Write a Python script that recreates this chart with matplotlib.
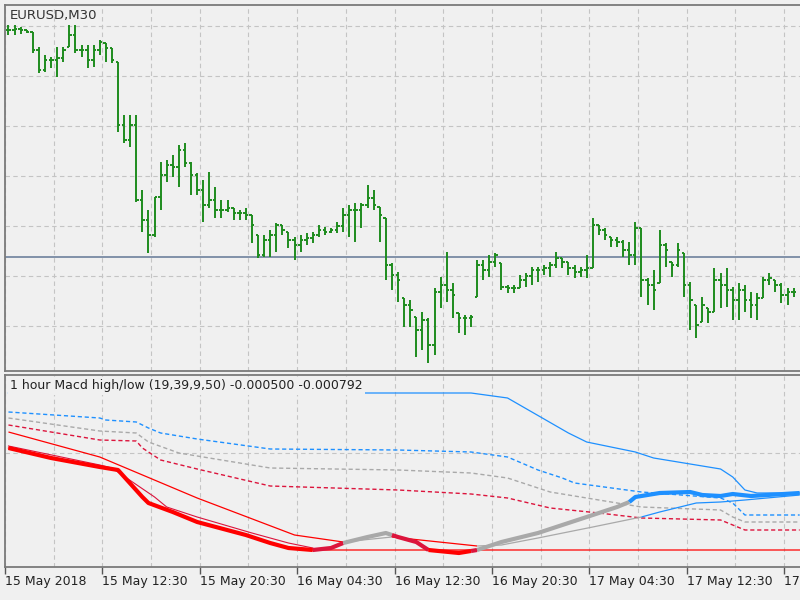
import numpy as np
import matplotlib
matplotlib.use("Agg")
import matplotlib.pyplot as plt

# EURUSD M30 bars, prices given in pips above 1.1800
BASE = 1.1800
PIP = 0.0001

open_pips = [128, 128, 128.5, 128, 127, 118, 108, 113, 113, 114,
             119.5, 125.5, 118, 118, 113, 118, 121.5, 119, 112, 80.5,
             73, 80.5, 43, 33, 25.5, 44.5, 55.5, 60.5, 59.5, 68,
             61.5, 55.5, 48, 40.5, 43, 38, 38, 39, 36.5, 36.5,
             35.5, 25.5, 15.5, 23, 25.5, 30.5, 27, 23, 20.5, 23,
             24, 25.5, 28, 27, 28, 30, 35.5, 38, 38, 40.5,
             44, 39.5, 34, 10.5, 5.5, -6, -9.5, -15.5, -22, -17,
             -29.5, -3, 0.5, -2, -13.5, -16, -16, -5.5, 10.5, 8,
             12, 11.5, -0.5, -1, -1, 3, 5, 8, 8, 9,
             10.5, 14, 12, 9, 7, 8, 9, 30.5, 28, 24.5,
             23, 22, 18, 15.5, 29, 3, 0.5, 1.5, 20.5, 12,
             10.5, 16.5, 0.5, -9.5, -18, -11, -13, 3, 0.5, -2,
             -7, -2, -7, -9.5, -6, 3, 3, 0.5, -4.5, -3]
high_pips = [130.5, 130.5, 129.5, 128, 127, 119.5, 115.5, 114.5, 119.5, 119.5,
             130.5, 130.5, 120.5, 120.5, 120.5, 123, 121.5, 119, 112, 85.5,
             85.5, 85.5, 48, 38, 44.5, 62, 63, 65.5, 70.5, 71.5,
             62, 56.5, 53, 57, 49.5, 43, 43, 39, 38, 39,
             35.5, 25.5, 25.5, 28, 31.5, 30.5, 27, 24.5, 25.5, 26.5,
             27, 30.5, 29.5, 29, 32, 39, 40.5, 41.5, 41.5, 50.5,
             48, 39.5, 34, 11.5, 7, -6, -7, -15.5, -13, -16,
             -1, 4.5, 17, 1.5, -13.5, -14.5, -14.5, 13, 13, 15.5,
             16.5, 11.5, 0.5, 0.5, 5.5, 6.5, 9.5, 9.5, 10.5, 12,
             17, 14, 12, 10.5, 9.5, 15.5, 34, 30.5, 29, 24.5,
             24.5, 23, 22, 32, 29, 4, 8, 28, 21.5, 12,
             21.5, 16.5, 2, -9.5, -5.5, -11, 9, 6.5, 9, -0.5,
             1.5, 0.5, -3, -3.5, 4.5, 6.5, 3, 1.5, -1, -1]
low_pips = [125.5, 125.5, 126, 126.5, 116.5, 106.5, 107, 109, 104.5, 112,
            119.5, 116.5, 114.5, 109, 109.5, 115.5, 112, 111.5, 77, 71.5,
            69.5, 42, 27, 16.5, 24.5, 38, 52, 54.5, 49.5, 59.5,
            45.5, 45.5, 32, 39, 34, 34, 37, 33, 33, 33,
            21.5, 14, 14.5, 14.5, 17, 25.5, 19, 13, 17, 20.5,
            21.5, 24.5, 25.5, 26.5, 26.5, 27, 24.5, 22, 29, 39,
            38, 22, 3, -2, -8, -20.5, -20.5, -35.5, -32, -38.5,
            -34.5, -11, -8, -16, -23.5, -24.5, -20.5, -5.5, 3, 4.5,
            9.5, -2, -3.5, -3.5, -1, -0.5, 0.5, 2, 5.5, 4.5,
            9, 9, 5.5, 4, 4.5, 4, 9, 25.5, 23, 19.5,
            19.5, 14.5, 10.5, 10.5, -5.5, -9.5, -12, 1.5, 9.5, 4.5,
            9.5, -5.5, -22, -26, -18, -18.5, -13, -11, -10.5, -17,
            -17, -13, -16, -17, -6, 0.5, -3, -8.5, -9.5, -5.5]
close_pips = [128, 128.5, 128, 127, 118, 108, 113, 113, 114, 118,
              125.5, 118, 118, 113, 118, 122, 119, 113, 80.5, 73,
              80.5, 43, 33, 25.5, 44.5, 55.5, 60.5, 59.5, 68, 61.5,
              55.5, 48, 40.5, 43, 38, 38, 39, 36.5, 36.5, 35.5,
              30.5, 15.5, 23, 25.5, 30.5, 28, 23, 20.5, 23, 24,
              25.5, 28, 27, 28, 30, 35.5, 38, 38, 40.5, 44,
              40.5, 35.5, 10.5, 5.5, 3, -9.5, -12, -22, -17, -29.5,
              -3, 0.5, -2, -4.5, -16, -16, -15.5, 10.5, 8, 12,
              15.5, -0.5, -1, -1, 3, 5, 8, 8, 9, 10.5,
              14, 12, 9, 7, 8, 9, 30.5, 28, 25.5, 23,
              22, 18, 15.5, 29, 3, 0.5, -2, 20.5, 18, 10.5,
              18, 0.5, -7, -19.5, -9.5, -13, 3, 0.5, -2, -7,
              -2, -7, -9.5, -6, 3, 4, 0.5, -4.5, -3, -3]
hline_price = 1.18145

tick_labels = ["15 May 2018", "15 May 12:30", "15 May 20:30", "16 May 04:30",
               "16 May 12:30", "16 May 20:30", "17 May 04:30", "17 May 12:30",
               "17 May 20:30"]

# MACD high/low indicator, knots as (bar index, value)
macd_x = [0, 7, 15, 18, 22, 23, 27, 31, 39, 43, 46, 50, 53, 55, 59, 62, 63, 64,
          67, 69, 74, 76, 77, 81, 87, 95, 100, 102, 103, 107, 112, 114, 117, 119,
          122, 130]
macd_v = [0.00088, 0.00048, 0.00012, 0.0, -0.00108, -0.00132, -0.00168, -0.00208,
          -0.00260, -0.00292, -0.00312, -0.00320, -0.00312, -0.00292, -0.00268,
          -0.00252, -0.00260, -0.00268, -0.00288, -0.00320, -0.00332, -0.00324,
          -0.00320, -0.00288, -0.00252, -0.00188, -0.00148, -0.00128, -0.00108,
          -0.00092, -0.00088, -0.00100, -0.00104, -0.00096, -0.00104, -0.00092]
macd_breaks = [0, 50, 55, 63, 69, 76, 77, 102, 130]
macd_states = ["red", "crimson", "gray", "crimson", "red", "crimson", "gray", "blue"]

sig_x = [0, 15, 31, 47, 55, 63, 77, 81, 87, 96, 100, 104, 107, 113, 117, 121, 130]
sig_v = [0.00152, 0.00052, -0.00112, -0.00260, -0.00288, -0.00268, -0.00304,
         -0.00300, -0.00272, -0.00228, -0.00208, -0.00188, -0.00168, -0.00132,
         -0.00128, -0.00120, -0.00100]
sig_breaks = [0, 55, 63, 77, 104, 130]
sig_states = ["red", "gray", "red", "gray", "blue"]

fol_x = [0, 15, 17, 24, 26, 31, 40, 46, 50]
fol_v = [0.00096, 0.00020, 0.00008, -0.00108, -0.00148, -0.00188, -0.00252,
         -0.00292, -0.00312]

hi_x = [0, 76, 82, 92, 95, 103, 106, 111, 117, 119, 121, 123, 130]
hi_v = [0.00308, 0.00308, 0.00288, 0.00148, 0.00112, 0.00072, 0.00048, 0.00028,
        0.00004, -0.00028, -0.00080, -0.00092, -0.00092]
lo_x = [0, 7, 15, 18, 22, 23, 27, 31, 39, 43, 46, 50, 130]
lo_v = [0.00088, 0.00048, 0.00012, 0.0, -0.00108, -0.00132, -0.00168, -0.00208,
        -0.00260, -0.00292, -0.00312, -0.00320, -0.00320]

up_x = [0, 15, 16, 21, 23, 25, 31, 43, 64, 76, 82, 87, 91, 93, 104, 117, 119, 121, 130]
up_v = [0.00232, 0.00208, 0.00200, 0.00192, 0.00168, 0.00148, 0.00124, 0.00084,
        0.00080, 0.00072, 0.00052, 0.0, -0.00032, -0.00052, -0.00088, -0.00112,
        -0.00132, -0.00180, -0.00180]
mid_x = [0, 15, 21, 23, 28, 43, 64, 76, 82, 89, 95, 104, 117, 119, 121, 130]
mid_v = [0.00208, 0.00156, 0.00148, 0.00112, 0.00068, 0.00008, 0.0, -0.00012,
         -0.00032, -0.00088, -0.00112, -0.00148, -0.00160, -0.00188, -0.00208,
         -0.00208]
dn_x = [0, 15, 21, 22, 25, 31, 43, 64, 76, 82, 89, 97, 104, 117, 119, 121, 130]
dn_v = [0.00180, 0.00120, 0.00116, 0.00088, 0.00040, 0.00004, -0.00064, -0.00080,
        -0.00096, -0.00112, -0.00152, -0.00172, -0.00192, -0.00200, -0.00220,
        -0.00240, -0.00240]

colors = {"red": "#ff0000", "crimson": "#dc143c", "gray": "#a9a9a9", "blue": "#1e90ff"}
bg = "#f0f0f0"
grid_col = "#c4c4c4"
bar_col = "#1e8c1e"

o = BASE + np.array(open_pips) * PIP
h = BASE + np.array(high_pips) * PIP
l = BASE + np.array(low_pips) * PIP
c = BASE + np.array(close_pips) * PIP
idx = np.arange(len(c))

fig = plt.figure(figsize=(8, 6), dpi=100, facecolor=bg)
ax1 = fig.add_axes([5 / 800, 1 - 371 / 600, 1 - 5 / 800, 366 / 600])
ax2 = fig.add_axes([5 / 800, 1 - 567 / 600, 1 - 5 / 800, 192 / 600])

grid_pos = np.arange(0, 136, 8) - 0.57
for ax in (ax1, ax2):
    ax.set_facecolor(bg)
    ax.set_xlim(-0.5, 130.05)
    for side in ("left", "top", "bottom"):
        ax.spines[side].set_color("#7a7a7a")
        ax.spines[side].set_linewidth(1.3)
    ax.spines["right"].set_visible(False)
    ax.tick_params(axis="y", length=0, labelleft=False)

# price bars
ax1.vlines(idx, l, h, color=bar_col, lw=1.4, zorder=3)
ax1.hlines(o, idx - 0.4, idx, color=bar_col, lw=1.4, zorder=3)
ax1.hlines(c, idx, idx + 0.4, color=bar_col, lw=1.4, zorder=3)
ax1.axhline(hline_price, color="#6e819c", lw=1.2, zorder=2)
ax1.set_ylim(BASE - 42.5 * PIP, BASE + 140.5 * PIP)
ax1.set_yticks(BASE + np.arange(-20, 131, 25) * PIP)
ax1.set_xticks(grid_pos)
ax1.tick_params(axis="x", length=0, labelbottom=False)
ax1.grid(True, color=grid_col, ls=(0, (4, 3)), lw=0.8)
fig.text(10 / 800, 1 - 15 / 600, "EURUSD,M30", fontsize=9.5, color="#333333", va="center")

# indicator window
dash = (0, (3, 2))
ax2.plot(up_x, up_v, color=colors["blue"], lw=1, ls=dash, zorder=2)
ax2.plot(mid_x, mid_v, color=colors["gray"], lw=1, ls=dash, zorder=2)
ax2.plot(dn_x, dn_v, color=colors["crimson"], lw=1, ls=dash, zorder=2)
ax2.plot(hi_x, hi_v, color=colors["blue"], lw=0.9, zorder=2)
ax2.plot(lo_x, lo_v, color=colors["red"], lw=0.9, zorder=2)
ax2.plot(fol_x, fol_v, color=colors["crimson"], lw=0.8, zorder=3)


def colored(xs, vs, breaks, states, lw, z):
    xs = np.array(xs)
    vs = np.array(vs)
    for a, b, s in zip(breaks[:-1], breaks[1:], states):
        m = (xs >= a) & (xs <= b)
        ax2.plot(xs[m], vs[m], color=colors[s], lw=lw, zorder=z, solid_capstyle="butt")


colored(sig_x, sig_v, sig_breaks, sig_states, 0.9, 4)
colored(macd_x, macd_v, macd_breaks, macd_states, 3.0, 5)

ax2.set_ylim(-0.00388, 0.0038)
ax2.set_yticks([0.00068])
ax2.set_xticks(np.arange(0, 136, 16) - 0.57)
ax2.set_xticklabels(tick_labels, fontsize=9, color="#222222", ha="left")
ax2.set_xticks(grid_pos, minor=True)
ax2.tick_params(axis="x", which="major", length=5, width=1, color="#555555", pad=1)
ax2.tick_params(axis="x", which="minor", length=0)
ax2.grid(True, which="both", color=grid_col, ls=(0, (4, 3)), lw=0.8)
ax2.set_axisbelow(True)

fig.text(10 / 800, 1 - 386 / 600, "1 hour Macd high/low (19,39,9,50) -0.000500 -0.000792",
         fontsize=9, color="#222222", va="center", zorder=10,
         bbox=dict(facecolor=bg, edgecolor="none", pad=1.5))

plt.savefig("out.png", dpi=100, facecolor=bg)
